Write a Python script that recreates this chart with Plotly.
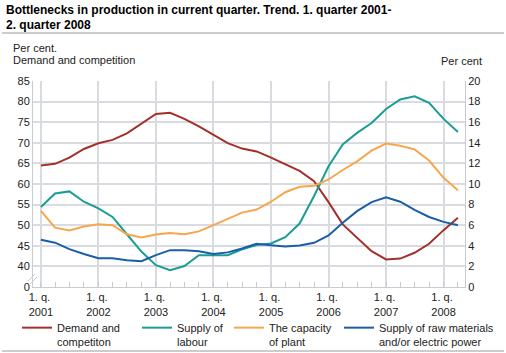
import plotly.graph_objects as go

years = list(range(2001, 2009))
quarter_labels = [f"{q}. q. {y}" for y in years for q in range(1, 5)][:30]
quarter_dates = [f"{y}-{3 * (q - 1) + 1:02d}-01" for y in years for q in range(1, 5)][:30]

demand = [64.5, 64.9, 66.4, 68.5, 69.9, 70.7, 72.3, 74.6, 77.0, 77.3,
          75.8, 74.0, 72.0, 69.9, 68.6, 67.9, 66.4, 64.8, 63.2, 60.7,
          55.6, 50.2, 47.0, 43.7, 41.7, 41.9, 43.3, 45.5, 48.8, 51.8]
labour = [7.76, 9.08, 9.28, 8.28, 7.64, 6.8, 5.12, 3.44, 2.12, 1.64,
          2.04, 3.08, 3.08, 3.08, 3.66, 4.08, 4.22, 4.84, 6.16, 8.84,
          11.72, 13.84, 14.96, 15.92, 17.28, 18.2, 18.52, 17.88, 16.32, 15.04]
plant = [7.4, 5.76, 5.48, 5.88, 6.1, 6.0, 5.12, 4.8, 5.1, 5.24,
         5.12, 5.4, 6.0, 6.64, 7.22, 7.52, 8.28, 9.2, 9.73, 9.84,
         10.44, 11.36, 12.2, 13.24, 13.92, 13.72, 13.36, 12.28, 10.6, 9.4]
raw = [4.58, 4.3, 3.68, 3.2, 2.8, 2.8, 2.6, 2.5, 3.1, 3.58,
       3.58, 3.48, 3.2, 3.36, 3.74, 4.2, 4.05, 3.92, 4.04, 4.29,
       5.0, 6.24, 7.36, 8.24, 8.72, 8.28, 7.48, 6.8, 6.32, 6.0]

left_ticks = [35, 40, 45, 50, 55, 60, 65, 70, 75, 80, 85]
left_text = ["0", "40", "45", "50", "55", "60", "65", "70", "75", "80", "85"]

names = ["Demand and<br>competiton", "Supply of<br>labour",
         "The capacity<br>of plant", "Supply of raw materials<br>and/or electric power"]
colors = ["#a3302b", "#1a9d95", "#f7a64c", "#1a5ea8"]

W, H = 506, 353
L, R, T, B = 33, 41, 81, 66
pw, ph = W - L - R, H - T - B

fig = go.Figure()
series = [(demand, "y"), (labour, "y2"), (plant, "y2"), (raw, "y2")]
legend_px = [17, 137, 229, 339]
for k, (vals, ax) in enumerate(series):
    lg = "legend" if k == 0 else f"legend{k+1}"
    fig.add_trace(go.Scatter(x=quarter_dates, y=vals, yaxis=ax, mode="lines", name=names[k],
                             text=quarter_labels, line=dict(color=colors[k], width=2),
                             legend=lg))

font = "Liberation Sans, Arial, sans-serif"
grid = "#d8dbe0"
axc = "#c8ccd2"
layout_legends = {}
for k, px in enumerate(legend_px):
    key = "legend" if k == 0 else f"legend{k+1}"
    layout_legends[key] = dict(xref="container", yref="container", x=px / W, y=1 - 314 / H,
                               xanchor="left", yanchor="top", bgcolor="rgba(0,0,0,0)",
                               font=dict(family=font, size=11, color="#222"),
                               itemwidth=30, valign="top")

fig.update_layout(
    width=W, height=H, margin=dict(l=L, r=R, t=T, b=B, autoexpand=False),
    paper_bgcolor="white", plot_bgcolor="white",
    font=dict(family=font, size=11, color="#222"),
    xaxis=dict(type="date", range=["2000-11-12", "2008-05-16"], automargin=False,
               tick0="2001-01-01", dtick="M12", tickformat="1. q.\u00a0<br>%Y", tickangle=0,
               showgrid=True, gridcolor=grid, gridwidth=1.5, zeroline=False,
               showline=True, linecolor=axc, linewidth=1,
               ticks="inside", ticklen=5, tickcolor=axc,
               minor=dict(tick0="2001-01-01", dtick="M3", ticks="inside", ticklen=5,
                          tickcolor=axc, showgrid=False),
               tickfont=dict(size=11, color="#222")),
    yaxis=dict(range=[35, 85], tickmode="array", tickvals=left_ticks, ticktext=left_text,
               automargin=False,
               showgrid=True, gridcolor=grid, gridwidth=1.5, zeroline=False,
               showline=True, linecolor=axc, linewidth=1, ticks="",
               tickfont=dict(size=11, color="#222")),
    yaxis2=dict(range=[0, 20], dtick=2, overlaying="y", side="right", showgrid=False,
                automargin=False,
                zeroline=False, showline=True, linecolor=axc, linewidth=1, ticks="",
                tickfont=dict(size=11, color="#222")),
    showlegend=True,
    **layout_legends,
)

def px2x(p):
    return (p - L) / pw

def py2y(p):
    return (H - B - p) / ph

shapes = [
    dict(type="line", xref="paper", yref="paper", x0=px2x(2), x1=px2x(504), y0=py2y(33), y1=py2y(33),
         line=dict(color="#9a9a9a", width=1)),
    dict(type="line", xref="paper", yref="paper", x0=px2x(2), x1=px2x(504), y0=py2y(351), y1=py2y(351),
         line=dict(color="#9a9a9a", width=1)),
    dict(type="line", xref="paper", yref="paper", x0=px2x(28), x1=px2x(35), y0=py2y(281), y1=py2y(274),
         line=dict(color=axc, width=1)),
    dict(type="line", xref="paper", yref="paper", x0=px2x(30), x1=px2x(37), y0=py2y(284), y1=py2y(277),
         line=dict(color=axc, width=1)),
]
fig.update_layout(shapes=shapes)

title_lines = ["Bottlenecks in production in current quarter. Trend. 1. quarter 2001-",
               "2. quarter 2008"]
for i, t in enumerate(title_lines):
    fig.add_annotation(xref="paper", yref="paper", x=px2x(4), y=py2y(9.5 + 15 * i),
                       xanchor="left", yanchor="middle", text=f"<b>{t}</b>", showarrow=False,
                       font=dict(family=font, size=12, color="#000"))

left_title = ["Per cent.", "Demand and competition"]
for i, t in enumerate(left_title):
    fig.add_annotation(xref="paper", yref="paper", x=px2x(11), y=py2y(48 + 11.6 * i),
                       xanchor="left", yanchor="middle", text=t, showarrow=False,
                       font=dict(family=font, size=11, color="#222"))
fig.add_annotation(xref="paper", yref="paper", x=px2x(484), y=py2y(61.5), xanchor="right",
                   yanchor="middle", text="Per cent", showarrow=False,
                   font=dict(family=font, size=11, color="#222"))

fig.write_html("out.html")
